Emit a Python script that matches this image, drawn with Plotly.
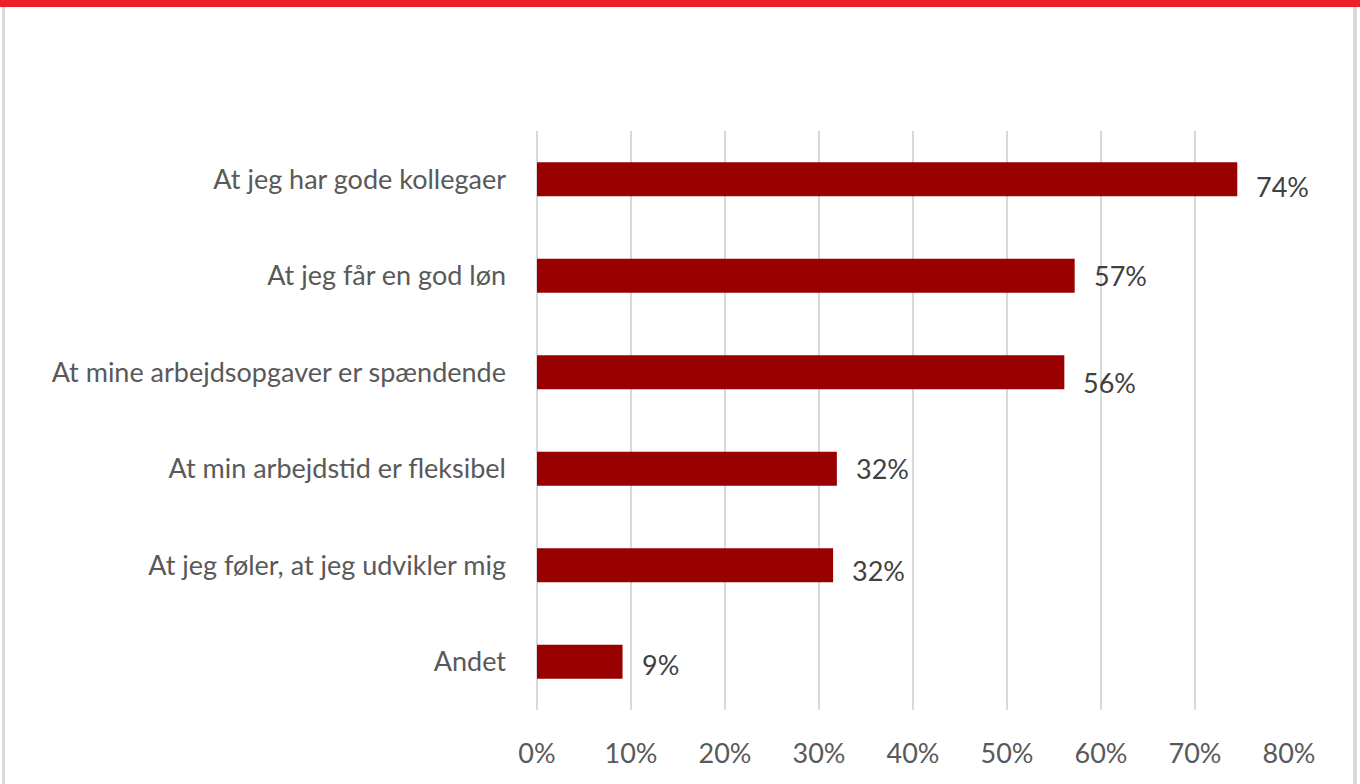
import plotly.graph_objects as go

# Data
categories = [
    "At jeg har gode kollegaer",
    "At jeg får en god løn",
    "At mine arbejdsopgaver er spændende",
    "At min arbejdstid er fleksibel",
    "At jeg føler, at jeg udvikler mig",
    "Andet",
]
values = [0.745, 0.572, 0.561, 0.319, 0.315, 0.091]
labels = ["74%", "57%", "56%", "32%", "32%", "9%"]
label_yshift = [-7, 0, -10, 0, -5, -3]

W, H = 1360, 784
L, R, T, B = 537, 71, 131, 74
pw, ph = W - L - R, H - T - B


def px_x(x):
    return (x - L) / pw


def px_y(y):
    return (H - B - y) / ph


fig = go.Figure()
fig.add_trace(go.Bar(
    x=values,
    y=categories,
    orientation="h",
    marker=dict(color="#990000", line=dict(width=0)),
    width=0.35,
    hoverinfo="x+y",
))

for v, t, ys, c in zip(values, labels, label_yshift, categories):
    fig.add_annotation(
        x=v, y=c, text=t, showarrow=False,
        xanchor="left", xshift=17, yshift=ys,
        font=dict(size=27, color="#404040", family="Lato"),
    )

# frame decorations
shapes = [
    dict(type="rect", xref="paper", yref="paper",
         x0=px_x(0), x1=px_x(W), y0=px_y(7), y1=px_y(0),
         fillcolor="#ee1f26", line=dict(width=0), layer="above"),
    dict(type="rect", xref="paper", yref="paper",
         x0=px_x(2), x1=px_x(5), y0=px_y(H), y1=px_y(7),
         fillcolor="#d9d9d9", line=dict(width=0)),
    dict(type="rect", xref="paper", yref="paper",
         x0=px_x(1353), x1=px_x(1357), y0=px_y(H), y1=px_y(7),
         fillcolor="#d9d9d9", line=dict(width=0)),
]

fig.update_layout(
    width=W, height=H,
    margin=dict(l=L, r=R, t=T, b=B),
    paper_bgcolor="white",
    plot_bgcolor="white",
    showlegend=False,
    shapes=shapes,
    font=dict(family="Lato", size=27, color="#595959"),
)
fig.update_xaxes(
    range=[0, 0.8],
    tickvals=[0, 0.1, 0.2, 0.3, 0.4, 0.5, 0.6, 0.7, 0.8],
    ticktext=["0%", "10%", "20%", "30%", "40%", "50%", "60%", "70%", "80%"],
    showgrid=True, gridcolor="#d9d9d9", gridwidth=2,
    zeroline=True, zerolinecolor="#d9d9d9", zerolinewidth=2,
    ticks="", ticklabelstandoff=25,
    tickfont=dict(size=27, color="#595959"),
)
fig.update_yaxes(
    autorange="reversed",
    showgrid=False, ticks="", ticklabelstandoff=30,
    tickfont=dict(size=27, color="#595959"),
)

fig.write_html("out.html", config={"displayModeBar": False},
               post_script="document.body.style.margin='0';")
